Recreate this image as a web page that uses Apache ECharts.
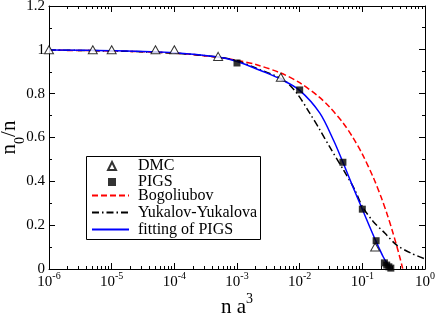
<!DOCTYPE html>
<html>
<head>
<meta charset="utf-8">
<script src="https://cdn.jsdelivr.net/npm/echarts@6/dist/echarts.min.js"></script>
<style>html,body{margin:0;padding:0;background:#fff}#c{width:436px;height:317px}</style>
</head>
<body>
<div id="c"></div>
<script>
// ---- data ----
const dmcX = [1e-6, 5e-6, 1e-5, 5e-5, 1e-4, 5e-4, 5e-3, 0.16];
const dmcY = [1.0, 1.0, 1.0, 1.0, 1.0, 0.97, 0.875, 0.10];

const pigsX = [1e-3, 1e-2, 0.049, 0.1, 0.166, 0.225, 0.245, 0.265, 0.285];
const pigsY = [0.94, 0.817, 0.487, 0.273, 0.129, 0.028, 0.018, 0.010, 0.004];

const bogoX = [1e-6, 1e-5, 1e-4, 5e-4, 1e-3, 2e-3, 5e-3, 1e-2, 2e-2, 3e-2, 5e-2, 7e-2, 0.1, 0.15, 0.2, 0.25, 0.3, 0.35, 0.4, 0.44];
const bogoY = [0.998, 0.995, 0.985, 0.966, 0.952, 0.933, 0.894, 0.850, 0.787, 0.739, 0.664, 0.602, 0.524, 0.417, 0.327, 0.248, 0.176, 0.110, 0.049, 0.002];

const yyX = [1e-6, 1e-5, 1e-4, 5e-4, 1e-3, 2e-3, 5.5e-3, 9e-3, 0.0145, 0.021, 0.03, 0.05, 0.076, 0.1, 0.15, 0.23, 0.35, 0.6, 1.0];
const yyY = [0.999, 0.995, 0.985, 0.967, 0.950, 0.917, 0.863, 0.802, 0.711, 0.635, 0.558, 0.452, 0.361, 0.285, 0.216, 0.163, 0.110, 0.072, 0.046];

const fitX = [1e-6, 1e-5, 1e-4, 5e-4, 1e-3, 2.6e-3, 5e-3, 1e-2, 0.021, 0.035, 0.049, 0.07, 0.1, 0.131, 0.166, 0.215, 0.25, 0.29];
const fitY = [0.999, 0.996, 0.987, 0.967, 0.947, 0.901, 0.866, 0.815, 0.711, 0.585, 0.487, 0.378, 0.273, 0.193, 0.125, 0.056, 0.025, 0.003];

const markerNames = ['DMC', 'PIGS'];
const curveNames = ['Bogoliubov', 'Yukalov-Yukalova', 'fitting of PIGS'];

// axis tick values
const xDecades = [1e-6, 1e-5, 1e-4, 1e-3, 1e-2, 1e-1, 1];
const xMantissas = [2, 3, 4, 5, 6, 7, 8, 9];
const yTickVals = [0, 0.1, 0.2, 0.3, 0.4, 0.5, 0.6, 0.7, 0.8, 0.9, 1.0, 1.1, 1.2];

const xTickData = [];
xDecades.forEach((d, i) => {
  xTickData.push([d, 1]);
  if (i < xDecades.length - 1) xMantissas.forEach(m => xTickData.push([Number((m * d).toPrecision(3)), 0]));
});
const yTickData = yTickVals.map((v, i) => [1, v, i % 2 === 0 ? 1 : 0]);

const pairs = (xs, ys) => xs.map((x, i) => [x, ys[i]]);
const FONT = 'Liberation Serif';
const MAJ = 6, MIN = 3;
const TICK_COLOR = '#000';

const chart = echarts.init(document.getElementById('c'), null, {renderer: 'canvas'});

const crisp = v => Math.round(v - 0.5) + 0.5;
const tickLine = (x1, y1, x2, y2) => ({
  type: 'line', shape: {x1: x1, y1: y1, x2: x2, y2: y2},
  style: {stroke: TICK_COLOR, lineWidth: 1}
});

const legendText = {fontFamily: FONT, fontSize: 16, color: '#000'};

chart.setOption({
  animation: false,
  backgroundColor: '#fff',
  grid: {left: 49, right: 11, top: 6, bottom: 48, containLabel: false, outerBoundsMode: 'none'},
  graphic: [{
    type: 'rect', left: 86, top: 156, z: 100,
    shape: {width: 174, height: 83},
    style: {fill: '#fff', stroke: '#000', lineWidth: 1}
  }],
  legend: [
    {
      orient: 'vertical', left: 107, top: 158, padding: 0, z: 101,
      itemWidth: 8, itemHeight: 8, itemGap: 0,
      textStyle: Object.assign({lineHeight: 14, padding: [0, 0, 0, 17]}, legendText),
      data: markerNames
    },
    {
      orient: 'vertical', left: 91, top: 187, padding: 0, z: 101,
      itemWidth: 37, itemHeight: 8, itemGap: 0,
      textStyle: Object.assign({lineHeight: 17, padding: [0, 0, 0, 4]}, legendText),
      data: curveNames.map(n => ({name: n, itemStyle: {opacity: 0}}))
    }
  ],
  xAxis: [
    {
      type: 'log', logBase: 10, min: 1e-6, max: 1, position: 'bottom',
      splitLine: {show: false},
      axisLine: {show: true, onZero: false, lineStyle: {color: '#000', width: 1}},
      axisTick: {show: true, inside: true, length: MAJ, lineStyle: {color: TICK_COLOR}},
      axisLabel: {
        margin: 2,
        formatter: v => '{b|10}{s|' + Math.round(Math.log10(v)) + '}',
        rich: {
          b: {fontFamily: FONT, fontSize: 15, color: '#000', lineHeight: 19, verticalAlign: 'bottom'},
          s: {fontFamily: FONT, fontSize: 10, color: '#000', lineHeight: 19, verticalAlign: 'top'}
        }
      },
      name: '{n|n a}{s|3}',
      nameLocation: 'middle', nameGap: 23, nameMoveOverlap: false,
      nameTextStyle: {
        rich: {
          n: {fontFamily: FONT, fontSize: 21, color: '#000', lineHeight: 26, verticalAlign: 'bottom'},
          s: {fontFamily: FONT, fontSize: 14, color: '#000', lineHeight: 26, verticalAlign: 'top'}
        }
      }
    },
    {
      type: 'log', logBase: 10, min: 1e-6, max: 1, position: 'top',
      splitLine: {show: false},
      axisLine: {show: true, onZero: false, lineStyle: {color: '#000', width: 1}},
      axisTick: {show: false}, axisLabel: {show: false}
    }
  ],
  yAxis: [
    {
      type: 'value', min: 0, max: 1.2, interval: 0.2, position: 'left',
      splitLine: {show: false},
      axisLine: {show: true, onZero: false, lineStyle: {color: '#000', width: 1}},
      axisTick: {show: true, inside: true, length: MAJ, lineStyle: {color: TICK_COLOR}},
      minorTick: {show: true, splitNumber: 2, length: MIN, lineStyle: {color: TICK_COLOR}},
      axisLabel: {fontFamily: FONT, fontSize: 15, color: '#000', margin: 4},
      name: '{n|n}{s|0}{n|/n}',
      nameLocation: 'middle', nameGap: 22, nameMoveOverlap: false,
      nameTextStyle: {
        rich: {
          n: {fontFamily: FONT, fontSize: 21, color: '#000', lineHeight: 28, verticalAlign: 'top'},
          s: {fontFamily: FONT, fontSize: 14, color: '#000', lineHeight: 28, verticalAlign: 'bottom'}
        }
      }
    },
    {
      type: 'value', min: 0, max: 1.2, interval: 0.2, position: 'right',
      splitLine: {show: false},
      axisLine: {show: true, onZero: false, lineStyle: {color: '#000', width: 1}},
      axisTick: {show: false}, axisLabel: {show: false}
    }
  ],
  series: [
    {
      // x-axis minor ticks (bottom) and all ticks on the top edge
      type: 'custom', silent: true, z: 1, clip: false,
      data: xTickData,
      renderItem: (params, api) => {
        const v = api.value(0), major = api.value(1) === 1;
        const pb = api.coord([v, 0]), pt = api.coord([v, 1.2]);
        const len = major ? MAJ : MIN;
        const x = crisp(pb[0]);
        const children = [tickLine(x, pt[1], x, pt[1] + len)];
        if (!major) children.push(tickLine(x, pb[1], x, pb[1] - len));
        return {type: 'group', children: children};
      }
    },
    {
      // ticks on the right edge
      type: 'custom', silent: true, z: 1, clip: false,
      data: yTickData,
      renderItem: (params, api) => {
        const p = api.coord([api.value(0), api.value(1)]);
        const len = api.value(2) === 1 ? MAJ : MIN;
        const y = crisp(p[1]);
        return tickLine(p[0], y, p[0] - len, y);
      }
    },
    {
      name: 'Bogoliubov', type: 'line', symbol: 'none', smooth: 0.3,
      data: pairs(bogoX, bogoY),
      lineStyle: {color: '#ff0000', width: 1.5, type: [6, 3]},
      itemStyle: {color: '#ff0000'}, z: 2
    },
    {
      name: 'Yukalov-Yukalova', type: 'line', symbol: 'none', smooth: 0.3,
      data: pairs(yyX, yyY),
      lineStyle: {color: '#000', width: 1.5, type: [7, 3, 1.5, 3]},
      itemStyle: {color: '#000'}, z: 2
    },
    {
      name: 'fitting of PIGS', type: 'line', symbol: 'none', smooth: 0.3,
      data: pairs(fitX, fitY),
      lineStyle: {color: '#0000ff', width: 1.5},
      itemStyle: {color: '#0000ff'}, z: 3
    },
    {
      name: 'DMC', type: 'scatter', symbol: 'triangle', symbolSize: [9, 8],
      data: pairs(dmcX, dmcY),
      itemStyle: {color: '#fff', borderColor: '#000', borderWidth: 1}, z: 4
    },
    {
      name: 'PIGS', type: 'scatter', symbol: 'rect', symbolSize: 7,
      data: pairs(pigsX, pigsY),
      itemStyle: {color: '#000'}, z: 5
    }
  ]
});
</script>
</body>
</html>
